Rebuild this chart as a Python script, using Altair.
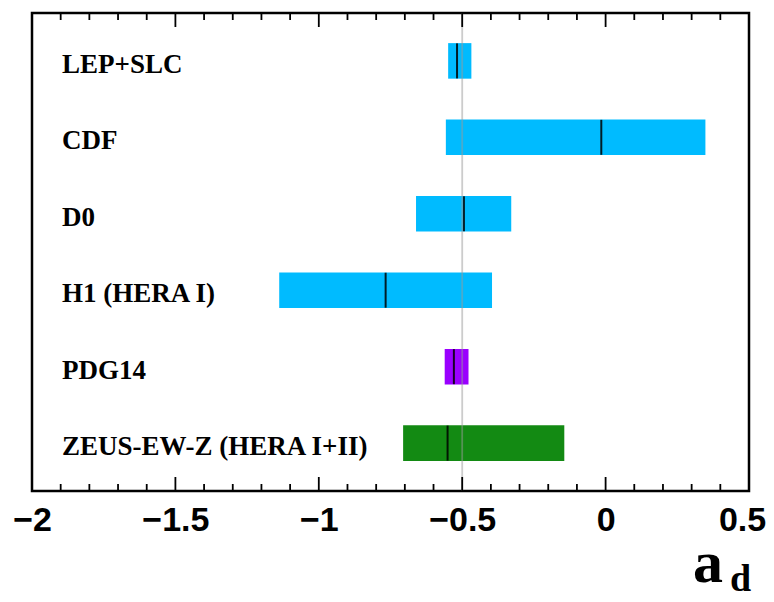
import altair as alt
import pandas as pd

labels = ["LEP+SLC", "CDF", "D0", "H1 (HERA I)", "PDG14", "ZEUS-EW-Z (HERA I+II)"]
lows = [-0.549, -0.557, -0.661, -1.138, -0.561, -0.706]
highs = [-0.468, 0.348, -0.329, -0.396, -0.478, -0.144]
centers = [-0.518, -0.015, -0.494, -0.767, -0.529, -0.551]
groups = ["exp", "exp", "exp", "exp", "pdg", "zeus"]
reference = [-0.5]
major_ticks = [-2.0, -1.5, -1.0, -0.5, 0.0, 0.5]
minor_ticks = [-1.9, -1.8, -1.7, -1.6, -1.4, -1.3, -1.2, -1.1, -0.9, -0.8, -0.7, -0.6,
               -0.4, -0.3, -0.2, -0.1, 0.1, 0.2, 0.3, 0.4]

df = pd.DataFrame({"label": labels, "lo": lows, "hi": highs, "c": centers, "g": groups})
ref_df = pd.DataFrame({"v": reference})
maj_df = pd.DataFrame({"v": major_ticks})
min_df = pd.DataFrame({"v": minor_ticks})

W, H = 717, 478
xscale = alt.Scale(domain=[-2, 0.5], nice=False, zero=False)
yscale = alt.Scale(paddingInner=0.535, paddingOuter=0.394)

xaxis = alt.Axis(values=major_ticks, format="~g", ticks=False, domain=False, grid=False,
                 labelFont="Liberation Sans", labelFontWeight="bold", labelFontSize=34,
                 labelColor="black", labelPadding=12, title=None, labelFlush=False,
                 labelOffset=alt.expr("datum.value > 0.4 ? -7 : 0"))

bars = alt.Chart(df).mark_bar(opacity=1).encode(
    x=alt.X("lo:Q", scale=xscale, axis=xaxis),
    x2="hi:Q",
    y=alt.Y("label:N", sort=labels, scale=yscale, axis=None),
    color=alt.Color("g:N", scale=alt.Scale(domain=["exp", "pdg", "zeus"],
                                            range=["#00bbff", "#9a00ff", "#138a13"]),
                    legend=None),
)

centres = alt.Chart(df).mark_tick(color="black", thickness=2, size=35, orient="vertical", opacity=0.85).encode(
    x=alt.X("c:Q", scale=xscale),
    y=alt.Y("label:N", sort=labels, scale=yscale, axis=None),
)

names = alt.Chart(df).mark_text(align="left", baseline="middle", dy=4,
                                font="Liberation Serif", fontWeight="bold",
                                fontSize=27, color="black").encode(
    x=alt.value(30),
    y=alt.Y("label:N", sort=labels, scale=yscale, axis=None),
    text="label:N",
)

refline = alt.Chart(ref_df).mark_rule(color="#999999", strokeWidth=1.8, opacity=0.5).encode(
    x=alt.X("v:Q", scale=xscale),
)

maj_bot = alt.Chart(maj_df).mark_rule(color="black", strokeWidth=1.8).encode(
    x=alt.X("v:Q", scale=xscale), y=alt.value(H), y2=alt.value(H - 14))
maj_top = alt.Chart(maj_df).mark_rule(color="black", strokeWidth=1.8).encode(
    x=alt.X("v:Q", scale=xscale), y=alt.value(0), y2=alt.value(14))
min_bot = alt.Chart(min_df).mark_rule(color="black", strokeWidth=1.8).encode(
    x=alt.X("v:Q", scale=xscale), y=alt.value(H), y2=alt.value(H - 7))
min_top = alt.Chart(min_df).mark_rule(color="black", strokeWidth=1.8).encode(
    x=alt.X("v:Q", scale=xscale), y=alt.value(0), y2=alt.value(7))

title_a = alt.Chart(ref_df).mark_text(text="a", font="Liberation Serif", fontWeight="bold",
                                      fontSize=60, align="left", baseline="alphabetic",
                                      color="black").encode(
    x=alt.value(661), y=alt.value(569))
title_d = alt.Chart(ref_df).mark_text(text="d", font="Liberation Serif", fontWeight="bold",
                                      fontSize=38, align="left", baseline="alphabetic",
                                      color="black").encode(
    x=alt.value(698), y=alt.value(578))

chart = alt.layer(
    bars, centres, refline, names, maj_bot, maj_top, min_bot, min_top, title_a, title_d
).properties(
    width=W, height=H,
    autosize=alt.AutoSizeParams(type="none"),
    padding={"left": 24, "top": 5, "right": 17, "bottom": 100},
).configure_view(stroke="black", strokeWidth=2.5)

chart.save("out.html", embed_options={"renderer": "svg", "actions": False})
